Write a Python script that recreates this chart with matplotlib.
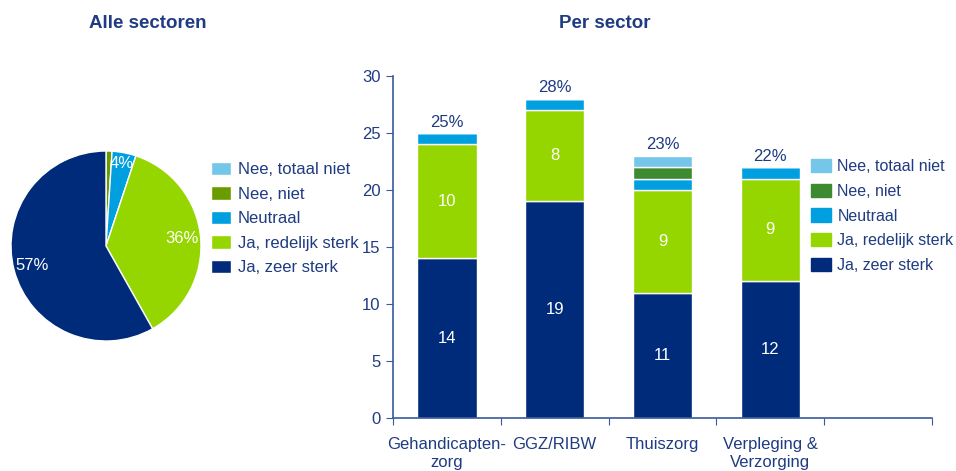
import numpy as np
import matplotlib.pyplot as plt
from matplotlib.patches import Patch

plt.rcParams['font.family'] = ['Liberation Sans', 'DejaVu Sans']

# data
categories = ['Nee, totaal niet', 'Nee, niet', 'Neutraal', 'Ja, redelijk sterk', 'Ja, zeer sterk']
pie_values = [0, 1, 4, 36, 57]
pie_labels = ['', '', '4%', '36%', '57%']

sectors = ['Gehandicapten-\nzorg', 'GGZ/RIBW', 'Thuiszorg', 'Verpleging &\nVerzorging']
zeer_sterk = [14, 19, 11, 12]
redelijk_sterk = [10, 8, 9, 9]
neutraal = [1, 1, 1, 1]
nee_niet = [0, 0, 1, 0]
nee_totaal_niet = [0, 0, 1, 0]
sector_pct = ['25%', '28%', '23%', '22%']

# kleuren
navy = '#002B7A'
green = '#95D600'
blue = '#00A0E0'
light_blue = '#74C7E8'
dark_green = '#3E8A30'
olive = '#6A9C00'
text_col = '#1F3B82'
axis_col = '#3A5A9C'

W, H = 956, 471
fig = plt.figure(figsize=(W / 100, H / 100), dpi=100)

# ---- taart ----
ax1 = fig.add_axes([11 / W, (H - 341) / H, 190 / W, 190 / H])
pie_colors = [light_blue, olive, blue, green, navy]
wedges, _ = ax1.pie(pie_values, colors=pie_colors, startangle=90, counterclock=False,
                    wedgeprops=dict(edgecolor='white', linewidth=1))
ax1.set_xlim(-1, 1)
ax1.set_ylim(-1, 1)
ax1.set_aspect('equal')
for w, lab in zip(wedges, pie_labels):
    if not lab:
        continue
    mid = np.deg2rad((w.theta1 + w.theta2) / 2)
    r = 0.88 if (w.theta2 - w.theta1) < 30 else 0.8
    ax1.text(r * np.cos(mid), r * np.sin(mid), lab, color='white', fontsize=12,
             ha='center', va='center')
fig.text(148 / W, 1 - 23 / H, 'Alle sectoren', fontsize=13.5, fontweight='bold',
         color=text_col, ha='center', va='center')

fig.legend(wedges, categories, loc='upper left', bbox_to_anchor=(211 / W, 1 - 162 / H),
           frameon=False, fontsize=12, labelcolor=text_col, handlelength=1.2,
           handleheight=0.85, handletextpad=0.4, labelspacing=0.54, borderpad=0,
           borderaxespad=0)

# ---- staven ----
ax2 = fig.add_axes([393 / W, (H - 418) / H, (932 - 393) / W, (418 - 76) / H])
x = np.arange(len(sectors))
bw = 0.55
layers = [zeer_sterk, redelijk_sterk, neutraal, nee_niet, nee_totaal_niet]
layer_colors = [navy, green, blue, dark_green, light_blue]
bottom = np.zeros(len(sectors))
for vals, col in zip(layers, layer_colors):
    vals = np.array(vals, dtype=float)
    ax2.bar(x, vals, bw, bottom=bottom, color=col, edgecolor='white', linewidth=1)
    if col in (navy, green):
        for xi, b, v in zip(x, bottom, vals):
            ax2.text(xi, b + v / 2, f'{int(v)}', color='white', fontsize=12,
                     ha='center', va='center')
    bottom += vals

for xi, tot, lab in zip(x, bottom, sector_pct):
    ax2.text(xi, tot + 0.3, lab, color=text_col, fontsize=12, ha='center', va='bottom')

ax2.set_xlim(-0.5, 4.5)
ax2.set_ylim(0, 30)
ax2.set_yticks(range(0, 31, 5))
ax2.set_xticks(np.arange(-0.5, 5, 1))
ax2.set_xticklabels([])
ax2.set_xticks(x, minor=True)
ax2.set_xticklabels(sectors, minor=True)
ax2.tick_params(axis='x', which='minor', length=0, pad=14, labelsize=12, labelcolor=text_col)
ax2.tick_params(axis='x', which='major', length=5, color=axis_col, direction='out')
ax2.tick_params(axis='y', length=5, color=axis_col, labelsize=12, labelcolor=text_col, pad=4)
for s in ['top', 'right']:
    ax2.spines[s].set_visible(False)
for s in ['left', 'bottom']:
    ax2.spines[s].set_color(axis_col)
    ax2.spines[s].set_linewidth(1.2)

fig.text(605 / W, 1 - 23 / H, 'Per sector', fontsize=13.5, fontweight='bold',
         color=text_col, ha='center', va='center')

handles = [Patch(color=c) for c in [light_blue, dark_green, blue, green, navy]]
fig.legend(handles, categories, loc='upper left', bbox_to_anchor=(811 / W, 1 - 159 / H),
           frameon=False, fontsize=11.5, labelcolor=text_col, handlelength=1.25,
           handleheight=0.9, handletextpad=0.4, labelspacing=0.6, borderpad=0,
           borderaxespad=0)

fig.savefig('out.png', dpi=100)
